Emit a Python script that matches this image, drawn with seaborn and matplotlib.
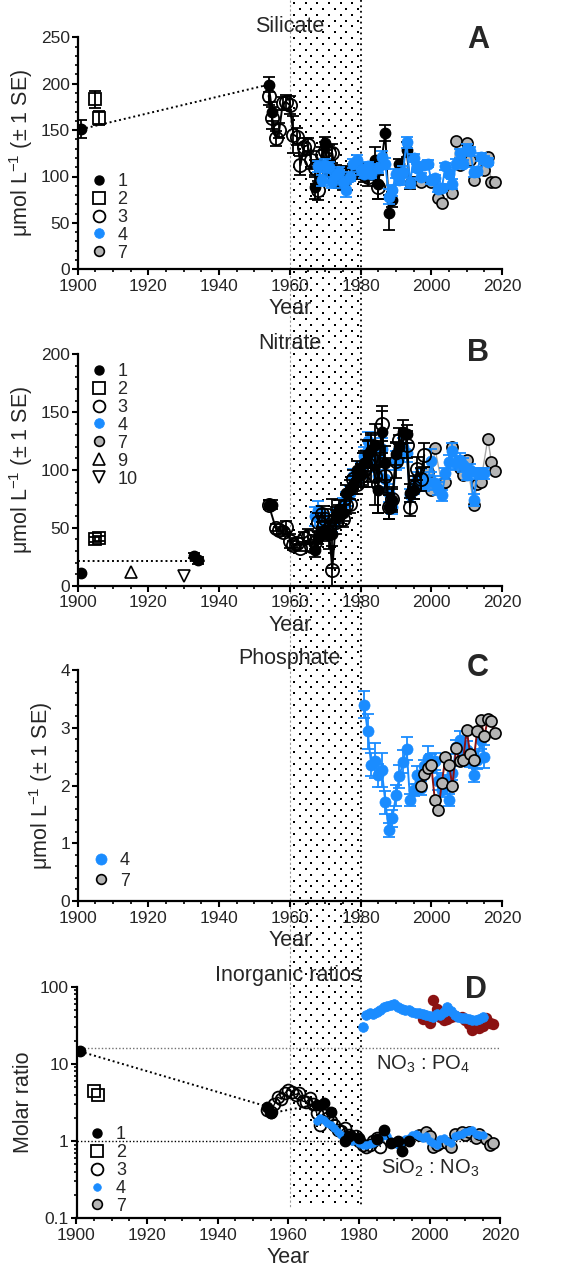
import numpy as np
import pandas as pd
import seaborn as sns
import matplotlib.pyplot as plt
from matplotlib.lines import Line2D
from matplotlib.ticker import MultipleLocator, FixedLocator, LogLocator, NullFormatter

# ---------------- data ----------------
# Panel A - silicate, (year, mean, SE)
SIL_1 = [(1901, 151, 10), (1954, 199, 8), (1955, 170, 10), (1967, 89, 13), (1970, 136, 7),
         (1971, 105, 10), (1984, 118, 14), (1985, 92, 16), (1987, 147, 9), (1988, 61, 19),
         (1989, 75, 8), (1991, 113, 6), (1993, 129, 8), (1994, 93, 6)]
SIL_2 = [(1905, 183, 9), (1906, 163, 8)]
SIL_3 = [(1954, 187, 10), (1955, 163, 12), (1956, 141, 8), (1957, 150, 8), (1958, 179, 7),
         (1959, 180, 8), (1960, 177, 10), (1961, 145, 20), (1962, 143, 9), (1963, 112, 10),
         (1964, 132, 9), (1965, 134, 8), (1966, 118, 10), (1967, 109, 9), (1968, 85, 10),
         (1969, 123, 9), (1970, 127, 10), (1971, 125, 9), (1972, 125, 10), (1973, 103, 9),
         (1974, 96, 8), (1975, 94, 9), (1976, 103, 8), (1977, 102, 7), (1978, 105, 8),
         (1980, 107, 8), (1981, 103, 9), (1982, 100, 10), (1983, 105, 9), (1985, 89, 13)]
SIL_4 = [(1968, 111, 6), (1969, 96, 6), (1970, 112, 7), (1971, 110, 6), (1972, 94, 6),
         (1973, 102, 5), (1974, 105, 5), (1975, 94, 6), (1976, 85, 7), (1977, 100, 5),
         (1978, 114, 5), (1979, 118, 5), (1980, 107, 5), (1981, 103, 5), (1982, 111, 5),
         (1983, 103, 5), (1985, 109, 5), (1986, 121, 6), (1987, 114, 6), (1988, 78, 8),
         (1989, 85, 6), (1990, 103, 5), (1991, 96, 5), (1992, 105, 6), (1993, 137, 6),
         (1994, 93, 5), (1995, 120, 4), (1996, 109, 4), (1997, 100, 4), (1998, 112, 4),
         (1999, 114, 4), (2000, 96, 4), (2001, 98, 4), (2002, 87, 4), (2003, 88, 4),
         (2004, 111, 4), (2005, 103, 4), (2006, 92, 5), (2007, 114, 5), (2008, 125, 5),
         (2009, 114, 4), (2010, 130, 5), (2011, 127, 5), (2012, 105, 5), (2013, 106, 4),
         (2014, 121, 4), (2015, 118, 4), (2016, 116, 4)]
SIL_7 = [(1997, 94), (2000, 94), (2002, 77), (2003, 71), (2006, 82), (2007, 138),
         (2008, 112), (2010, 136), (2011, 118), (2012, 96), (2015, 107), (2016, 121),
         (2017, 94), (2018, 94)]
SIL_DOTTED = [(1901, 1954)]

# Panel B - nitrate
NIT_1 = [(1901, 11, 0), (1933, 26, 2), (1934, 22, 3), (1954, 70, 4), (1955, 70, 4),
         (1967, 31, 6), (1968, 41, 5), (1969, 45, 6), (1970, 48, 8), (1971, 44, 12),
         (1972, 45, 30), (1973, 60, 8), (1974, 66, 8), (1975, 63, 7), (1976, 80, 7),
         (1977, 83, 8), (1978, 87, 8), (1979, 100, 8), (1980, 96, 9), (1981, 106, 10),
         (1982, 114, 12), (1983, 117, 15), (1984, 122, 18), (1985, 83, 20), (1986, 133, 18),
         (1987, 106, 15), (1988, 68, 10), (1989, 74, 10), (1990, 114, 10), (1991, 120, 10),
         (1992, 133, 10), (1993, 131, 8), (1994, 80, 8), (1995, 83, 8)]
NIT_2 = [(1905, 40, 2), (1906, 41, 2)]
NIT_3 = [(1954, 70, 4), (1956, 50, 3), (1957, 48, 3), (1958, 46, 3), (1959, 51, 5),
         (1960, 39, 6), (1961, 35, 4), (1962, 37, 4), (1963, 33, 3), (1964, 41, 5),
         (1965, 43, 6), (1966, 34, 4), (1967, 38, 6), (1968, 55, 8), (1969, 62, 7),
         (1970, 58, 8), (1971, 50, 10), (1972, 14, 20), (1973, 55, 10), (1974, 62, 8),
         (1975, 58, 7), (1976, 70, 8), (1977, 71, 8), (1978, 92, 8), (1979, 88, 9),
         (1980, 95, 10), (1981, 100, 15), (1982, 105, 20), (1983, 110, 20), (1984, 95, 25),
         (1985, 88, 25), (1986, 140, 15), (1987, 95, 15), (1988, 68, 10), (1989, 75, 10),
         (1990, 108, 15), (1991, 126, 10), (1993, 122, 12), (1994, 68, 8), (1995, 85, 10),
         (1996, 101, 10), (1997, 92, 10), (1998, 113, 10)]
NIT_4 = [(1967, 60, 8), (1968, 65, 8), (1969, 58, 6), (1970, 55, 6), (1971, 50, 6),
         (1972, 52, 6), (1973, 58, 6), (1974, 62, 5), (1975, 70, 6), (1976, 75, 6),
         (1977, 80, 6), (1978, 95, 6), (1979, 92, 6), (1980, 100, 7), (1981, 112, 8),
         (1982, 125, 8), (1983, 115, 8), (1984, 108, 10), (1985, 95, 10), (1986, 118, 10),
         (1987, 92, 8), (1988, 80, 8), (1989, 68, 6), (1990, 108, 8), (1991, 110, 8),
         (1992, 120, 8), (1993, 115, 8), (1994, 78, 6), (1995, 85, 6), (1996, 92, 6),
         (1997, 95, 6), (1998, 88, 6), (1999, 90, 6), (2000, 108, 10), (2001, 89, 6),
         (2002, 84, 6), (2003, 78, 5), (2004, 97, 5), (2005, 107, 6), (2006, 116, 7),
         (2007, 106, 6), (2008, 109, 6), (2009, 104, 6), (2010, 96, 5), (2011, 100, 5),
         (2012, 74, 5), (2013, 97, 5), (2014, 97, 5), (2015, 97, 5)]
NIT_7 = [(1998, 94), (1999, 98), (2000, 83), (2001, 119), (2003, 88), (2004, 90),
         (2006, 120), (2008, 102), (2009, 96), (2010, 109), (2012, 70), (2013, 88),
         (2014, 90), (2016, 127), (2017, 107), (2018, 99)]
NIT_9 = [(1915, 12)]
NIT_10 = [(1930, 8)]
NIT_EARLY_LEVEL = 21.5
NIT_EARLY_SPAN = [1900, 1936]

# Panel C - phosphate
PHO_4 = [(1981, 3.40, 0.23), (1982, 2.94, 0.30), (1983, 2.36, 0.20), (1984, 2.43, 0.30),
         (1985, 2.18, 0.20), (1986, 2.27, 0.30), (1987, 1.71, 0.20), (1988, 1.23, 0.12),
         (1989, 1.43, 0.15), (1990, 1.83, 0.18), (1991, 2.16, 0.20), (1992, 2.41, 0.20),
         (1993, 2.64, 0.20), (1994, 1.75, 0.10), (1995, 1.92, 0.10), (1996, 2.18, 0.15),
         (1997, 1.95, 0.12), (1998, 2.33, 0.12), (1999, 2.48, 0.20), (2000, 2.39, 0.15),
         (2001, 2.42, 0.15), (2002, 2.07, 0.15), (2003, 1.92, 0.12), (2004, 2.07, 0.12),
         (2005, 1.75, 0.10), (2006, 2.21, 0.12), (2007, 2.67, 0.12), (2008, 2.79, 0.15),
         (2009, 2.67, 0.15), (2010, 2.62, 0.15), (2011, 2.44, 0.12), (2012, 2.18, 0.12),
         (2013, 2.44, 0.15), (2014, 2.79, 0.15), (2015, 2.50, 0.20)]
PHO_7 = [(1997, 2.00), (1998, 2.20), (1999, 2.30), (2000, 2.35), (2001, 1.75), (2002, 1.58),
         (2003, 2.05), (2004, 2.49), (2005, 2.36), (2006, 1.99), (2007, 2.65), (2008, 2.42),
         (2009, 2.44), (2010, 2.96), (2011, 2.55), (2012, 2.45), (2013, 2.95), (2014, 3.13),
         (2015, 2.85), (2016, 3.15), (2017, 3.11), (2018, 2.91)]

# Panel D - molar ratios
NP_4 = [(1981, 30), (1982, 43), (1983, 45), (1984, 44), (1985, 47), (1986, 50), (1987, 55),
        (1988, 57), (1989, 58), (1990, 60), (1991, 55), (1992, 52), (1993, 50), (1994, 50),
        (1995, 47), (1996, 46), (1997, 45), (1998, 44), (1999, 43), (2000, 42), (2001, 41),
        (2002, 44), (2003, 43), (2004, 47), (2005, 55), (2006, 48), (2007, 43), (2008, 41),
        (2009, 39), (2010, 39), (2011, 38), (2012, 37), (2013, 37), (2014, 38), (2015, 40)]
NP_7 = [(1998, 38), (2000, 34), (2001, 67), (2002, 52), (2003, 40), (2004, 37), (2005, 38),
        (2006, 40), (2007, 42), (2009, 40), (2010, 37), (2011, 33), (2012, 27.5), (2013, 30),
        (2014, 29), (2015, 31), (2016, 39), (2017, 34), (2018, 33)]
SN_1 = [(1901, 14.5), (1954, 2.8), (1955, 2.3), (1968, 2.9), (1970, 3.1), (1972, 2.4),
        (1976, 1.0), (1977, 1.15), (1980, 1.1), (1985, 1.05), (1987, 1.4), (1989, 0.95),
        (1991, 1.0), (1992, 0.75), (1994, 1.0)]
SN_2 = [(1905, 4.5), (1906, 3.9)]
SN_3 = [(1954, 2.5), (1955, 2.4), (1956, 3.0), (1957, 3.7), (1958, 3.5), (1959, 4.2),
        (1960, 4.6), (1961, 4.3), (1962, 4.0), (1963, 4.2), (1964, 3.3), (1965, 3.2),
        (1966, 3.6), (1967, 3.0), (1968, 2.3), (1969, 1.6), (1970, 2.2), (1971, 2.0),
        (1972, 1.8), (1973, 1.6), (1974, 1.4), (1975, 1.35), (1976, 1.5), (1977, 1.2),
        (1978, 1.1), (1979, 1.15), (1980, 1.0), (1981, 0.9), (1982, 0.85), (1983, 0.9),
        (1984, 1.0), (1985, 1.1), (1986, 0.85)]
SN_4 = [(1968, 1.8), (1969, 2.0), (1970, 1.9), (1971, 1.7), (1972, 1.6), (1973, 1.5),
        (1974, 1.3), (1975, 1.2), (1976, 1.1), (1977, 1.1), (1978, 1.0), (1979, 1.05),
        (1980, 0.95), (1981, 0.9), (1982, 0.88), (1983, 0.92), (1984, 0.95), (1985, 1.0),
        (1986, 1.1), (1987, 1.2), (1988, 1.15), (1989, 1.0), (1990, 0.95), (1991, 0.9),
        (1992, 0.95), (1993, 1.05), (1994, 1.1), (1995, 1.2), (1996, 1.25), (1997, 1.15),
        (1998, 1.1), (1999, 1.15), (2000, 1.0), (2001, 0.95), (2002, 0.9), (2003, 1.05),
        (2004, 1.1), (2005, 1.0), (2006, 0.95), (2007, 1.15), (2008, 1.2), (2009, 1.25),
        (2010, 1.3), (2011, 1.35), (2012, 1.4), (2013, 1.25), (2014, 1.2), (2015, 1.2)]
SN_7 = [(1997, 1.2), (1999, 1.3), (2000, 1.15), (2001, 0.85), (2002, 0.9), (2003, 0.95),
        (2005, 0.95), (2006, 0.85), (2007, 1.25), (2009, 1.3), (2010, 1.2), (2011, 1.3),
        (2013, 1.1), (2014, 1.25), (2016, 1.05), (2017, 0.9), (2018, 0.95)]
SN_DOTTED = [(1901, 1954), (1955, 1970)]
REDFIELD_NP = 16
REDFIELD_SN = 1

PERIOD = [1960, 1980]
YEAR_TICKS = [1900, 1920, 1940, 1960, 1980, 2000, 2020]

BLUE = '#1a8cff'
GREY = '#b5b5b5'
DARKRED = '#8b1212'

STYLE = {
    '1': dict(marker='o', ms=7.5, mfc='black', mec='black', mew=1.0, line='black', ecol='black'),
    '2': dict(marker='s', ms=9, mfc='none', mec='black', mew=1.3, line='black', ecol='black'),
    '3': dict(marker='o', ms=9.5, mfc='none', mec='black', mew=1.3, line='black', ecol='black'),
    '4': dict(marker='o', ms=8, mfc=BLUE, mec=BLUE, mew=0.5, line=BLUE, ecol=BLUE),
    '7': dict(marker='o', ms=8, mfc=GREY, mec='black', mew=1.2, line='#a8a8a8', ecol='#888888'),
    '9': dict(marker='^', ms=8, mfc='none', mec='black', mew=1.2, line='black', ecol='black'),
    '10': dict(marker='v', ms=8, mfc='none', mec='black', mew=1.2, line='black', ecol='black'),
}

# ---------------- style ----------------
sns.set_theme(style='ticks')
plt.rcParams['font.family'] = ['Liberation Sans', 'DejaVu Sans']
plt.rcParams['mathtext.fontset'] = 'custom'
plt.rcParams['mathtext.rm'] = 'Liberation Sans'
plt.rcParams['mathtext.it'] = 'Liberation Sans'
plt.rcParams['mathtext.default'] = 'regular'

W, H = 570, 1272
fig = plt.figure(figsize=(W / 100, H / 100), dpi=100)


def add_panel(left, top, right, bottom):
    return fig.add_axes([left / W, 1 - bottom / H, (right - left) / W, (bottom - top) / H])


def to_df(pts):
    cols = ['year', 'value', 'se'][:len(pts[0])]
    df = pd.DataFrame(pts, columns=cols)
    df['seg'] = (df['year'].diff() > 3).cumsum()
    return df


def draw(ax, pts, key, z, line=None, lw=1.4, ms=None, mec=None, err=True, connect=True):
    st = STYLE[key]
    df = to_df(pts)
    if err and 'se' in df:
        ax.errorbar(df['year'], df['value'], yerr=df['se'], fmt='none', ecolor=st['ecol'],
                    elinewidth=1.3, capsize=4.5, capthick=1.3, zorder=z)
    sns.lineplot(data=df, x='year', y='value', units='seg', estimator=None, sort=False, ax=ax,
                 color=line or st['line'], lw=lw, linestyle='-' if connect else 'none',
                 marker=st['marker'], markersize=ms or st['ms'], markerfacecolor=st['mfc'],
                 markeredgecolor=mec or st['mec'], markeredgewidth=st['mew'],
                 zorder=z + 0.5, legend=False)
    return df


def dotted_links(ax, df, pairs):
    for ya, yb in pairs:
        sub = df[df['year'].isin([ya, yb])]
        sns.lineplot(data=sub, x='year', y='value', estimator=None, sort=False, ax=ax,
                     color='black', lw=1.4, linestyle=(0, (1, 1.5)), legend=False, zorder=3)


def style_axes(ax, title, xlabel='Year'):
    ax.set_facecolor('none')
    ax.set_xlim(1900, 2020)
    ax.xaxis.set_major_locator(FixedLocator(YEAR_TICKS))
    ax.xaxis.set_minor_locator(MultipleLocator(5))
    for s in ['top', 'right']:
        ax.spines[s].set_visible(False)
    for s in ['left', 'bottom']:
        ax.spines[s].set_linewidth(1.6)
        ax.spines[s].set_color('black')
    ax.tick_params(which='major', length=4, width=1.5, labelsize=12.5, pad=1.5, color='black')
    ax.tick_params(axis='x', which='major', pad=3)
    ax.tick_params(which='minor', length=2.5, width=1.2, color='black')
    ax.set_title(title, fontsize=15.5, pad=4)
    ax.set_xlabel(xlabel, fontsize=15.5, labelpad=3)


def legend(ax, keys, anchor, sizes, spacing=0.05):
    handles = []
    for k in keys:
        st = STYLE[k]
        handles.append(Line2D([], [], ls='none', marker=st['marker'], markersize=sizes.get(k, st['ms']),
                              markerfacecolor=st['mfc'], markeredgecolor=st['mec'],
                              markeredgewidth=st['mew']))
    ax.legend(handles, keys, loc='upper left', bbox_to_anchor=anchor, frameon=False,
              fontsize=13, handlelength=1.0, handletextpad=0.55, labelspacing=spacing,
              borderpad=0, borderaxespad=0)


ylab = 'μmol L$^{-1}$ (± 1 SE)'
LEG_SIZES = {'1': 6.5, '2': 8.5, '3': 8.5, '4': 7, '7': 7, '9': 8, '10': 8}

# ---------------- A : silicate ----------------
ax_a = add_panel(77.7, 37.3, 502, 269.3)
draw(ax_a, SIL_7, '7', 2, err=False, lw=1.0)
draw(ax_a, SIL_2, '2', 3, connect=False)
draw(ax_a, SIL_3, '3', 3)
d1 = draw(ax_a, SIL_1, '1', 4)
draw(ax_a, SIL_4, '4', 5)
dotted_links(ax_a, d1, SIL_DOTTED)
ax_a.set_ylim(0, 250)
ax_a.yaxis.set_major_locator(MultipleLocator(50))
ax_a.yaxis.set_minor_locator(MultipleLocator(10))
style_axes(ax_a, 'Silicate')
ax_a.set_ylabel(ylab, fontsize=15.5)
legend(ax_a, ['1', '2', '3', '4', '7'], (0.028, 0.415), LEG_SIZES)
ax_a.text(0.969, 0.988, 'A', transform=ax_a.transAxes, ha='right', va='center',
          fontsize=22, fontweight='bold')

# ---------------- B : nitrate ----------------
ax_b = add_panel(77.7, 354.3, 502, 585.7)
early = pd.DataFrame({'year': NIT_EARLY_SPAN, 'value': [NIT_EARLY_LEVEL] * 2})
sns.lineplot(data=early, x='year', y='value', ax=ax_b, color='black', lw=1.4,
             linestyle=(0, (1, 1.5)), legend=False, zorder=1)
draw(ax_b, NIT_7, '7', 2, err=False, lw=1.0)
draw(ax_b, NIT_2, '2', 3, connect=False)
draw(ax_b, NIT_9, '9', 3, err=False)
draw(ax_b, NIT_10, '10', 3, err=False)
draw(ax_b, NIT_4, '4', 3)
draw(ax_b, NIT_3, '3', 4)
draw(ax_b, NIT_1, '1', 5)
ax_b.set_ylim(0, 200)
ax_b.yaxis.set_major_locator(MultipleLocator(50))
ax_b.yaxis.set_minor_locator(MultipleLocator(10))
style_axes(ax_b, 'Nitrate')
ax_b.set_ylabel(ylab, fontsize=15.5)
legend(ax_b, ['1', '2', '3', '4', '7', '9', '10'], (0.028, 0.962), LEG_SIZES)
ax_b.text(0.969, 1.005, 'B', transform=ax_b.transAxes, ha='right', va='center',
          fontsize=22, fontweight='bold')

# ---------------- C : phosphate ----------------
ax_c = add_panel(77.7, 670, 502, 901)
draw(ax_c, PHO_4, '4', 2)
draw(ax_c, PHO_7, '7', 4, line=DARKRED, err=False)
ax_c.set_ylim(0, 4)
ax_c.yaxis.set_major_locator(MultipleLocator(1))
ax_c.yaxis.set_minor_locator(MultipleLocator(0.2))
style_axes(ax_c, 'Phosphate')
ax_c.set_ylabel(ylab, fontsize=15.5)
legend(ax_c, ['4', '7'], (0.033, 0.212), {'4': 8, '7': 7}, spacing=0.2)
ax_c.text(0.969, 1.009, 'C', transform=ax_c.transAxes, ha='right', va='center',
          fontsize=22, fontweight='bold')

# ---------------- D : ratios ----------------
ax_d = add_panel(76.5, 986.7, 500.5, 1218.3)
ax_d.set_yscale('log')
ax_d.axhline(REDFIELD_NP, color='#707070', lw=1, linestyle=(0, (1, 1.5)), zorder=1)
ax_d.axhline(REDFIELD_SN, color='black', lw=1, linestyle=(0, (1, 1.5)), zorder=1)
draw(ax_d, NP_7, '7', 2, line=DARKRED, ms=7, mec=DARKRED, connect=False)
ax_d.lines[-1].set_markerfacecolor(DARKRED)
draw(ax_d, NP_4, '4', 3, ms=7, connect=False)
draw(ax_d, SN_7, '7', 2, lw=0.9)
draw(ax_d, SN_2, '2', 3, connect=False)
draw(ax_d, SN_3, '3', 3, lw=1.0, ms=8.5)
draw(ax_d, SN_4, '4', 4, lw=1.0, ms=5.5)
d1 = draw(ax_d, SN_1, '1', 4, lw=1.0)
dotted_links(ax_d, d1, SN_DOTTED)
ax_d.set_ylim(0.1, 100)
ax_d.yaxis.set_major_locator(FixedLocator([0.1, 1, 10, 100]))
ax_d.set_yticklabels(['0.1', '1', '10', '100'])
ax_d.yaxis.set_minor_locator(LogLocator(base=10, subs=np.arange(2, 10)))
ax_d.yaxis.set_minor_formatter(NullFormatter())
style_axes(ax_d, 'Inorganic ratios')
ax_d.set_ylabel('Molar ratio', fontsize=15.5)
ax_d.text(1998, 10, 'NO$_3$ : PO$_4$', ha='center', va='center', fontsize=14.5)
ax_d.text(2000, 0.45, 'SiO$_2$ : NO$_3$', ha='center', va='center', fontsize=14.5)
legend(ax_d, ['1', '2', '3', '4', '7'], (0.027, 0.398),
       {'1': 6.5, '2': 8.5, '3': 8.5, '4': 5.5, '7': 7})
ax_d.text(0.969, 0.986, 'D', transform=ax_d.transAxes, ha='right', va='center',
          fontsize=22, fontweight='bold')

# ---------------- stippled 1960-1980 band behind all panels ----------------
bg = fig.add_axes([0, 0, 1, 1], zorder=-1)
bg.set_xlim(0, W)
bg.set_ylim(H, 0)
bg.axis('off')
x0 = ax_a.transData.transform((PERIOD[0], 0))[0]
x1 = ax_a.transData.transform((PERIOD[1], 0))[0]
y_end = H - ax_d.transAxes.transform((0, 0))[1] - 11
step = 11.7
xs, ys = [], []
for i, yy in enumerate(np.arange(3, y_end, step / 2)):
    row = np.arange(x0 + 4 + (i % 2) * step / 2, x1 - 2, step)
    xs.extend(row)
    ys.extend([yy] * len(row))
bg.scatter(xs, ys, s=4.5, marker='s', color='black', linewidths=0)
bg.plot([x0, x0], [0, y_end], color='#9a9a9a', lw=0.8, linestyle=(0, (2, 2)))
bg.plot([x1, x1], [0, y_end], color='black', lw=1.3, linestyle=(0, (1, 2)))

fig.savefig('out.png', dpi=100, facecolor='white')
